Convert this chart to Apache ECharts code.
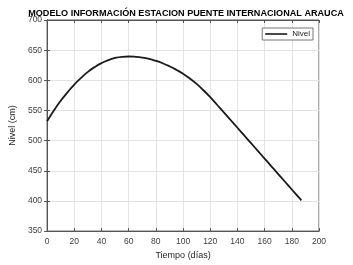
<!DOCTYPE html>
<html>
<head>
<meta charset="utf-8">
<script src="https://cdn.jsdelivr.net/npm/echarts@6/dist/echarts.min.js"></script>
<style>
  html, body { margin: 0; padding: 0; background: #fff; }
  #chart { width: 353px; height: 265px; }
</style>
</head>
<body>
<div id="chart"></div>
<script>
// datos
const dias = [0, 5, 10, 15, 20, 25, 30, 35, 40, 45, 50, 55, 60, 65, 70, 75, 80, 85, 90, 95,
  100, 105, 110, 115, 120, 125, 130, 135, 140, 145, 150, 155, 160, 165, 170, 175, 180, 185, 187]
const nivel = [532, 550, 566, 580, 593, 604, 614, 622, 628.5, 633.5, 637, 639, 639.5, 639, 637.7, 635.5, 632.3, 628.3, 623.4, 617.6,
  611, 603, 594, 583.5, 572, 559.5, 547, 534.2, 521.4, 508.6, 495.8, 483, 470.2, 457.4, 444.6, 431.8, 419, 406.2, 401]

const fontFam = 'Liberation Sans, Arial, sans-serif'
const axisColor = '#555'
const gridColor = '#e3e3e3'

const chart = echarts.init(document.getElementById('chart'))

const seriesData = dias.map((d, i) => [d, nivel[i]])

const option = {
  animation: false,
  title: {
    text: 'MODELO INFORMACIÓN ESTACION PUENTE INTERNACIONAL ARAUCA',
    left: 181,
    textAlign: 'center',
    top: 4,
    textStyle: {
      fontFamily: fontFam,
      fontSize: 9.1,
      fontWeight: 'bold',
      color: '#000'
    }
  },
  grid: {
    left: 46,
    right: 34,
    top: 20,
    bottom: 29,
    show: true,
    borderColor: axisColor,
    borderWidth: 1
  },
  legend: {
    data: ['Nivel'],
    right: 40,
    top: 28,
    icon: 'rect',
    itemWidth: 22,
    itemHeight: 1.6,
    itemGap: 2,
    padding: [2, 3, 2, 3],
    backgroundColor: '#fff',
    borderColor: '#777',
    borderWidth: 1,
    borderRadius: 0,
    textStyle: { fontFamily: fontFam, fontSize: 8, color: '#222' }
  },
  xAxis: [
    {
      type: 'value',
      min: 0,
      max: 200,
      interval: 20,
      name: 'Tiempo (días)',
      nameLocation: 'middle',
      nameGap: 19,
      nameTextStyle: { fontFamily: fontFam, fontSize: 9, color: '#262626' },
      axisLine: { show: true, lineStyle: { color: axisColor } },
      axisTick: { show: true, inside: true, length: 3, lineStyle: { color: axisColor } },
      axisLabel: { fontFamily: fontFam, fontSize: 8.5, color: '#404040', margin: 6 },
      splitLine: { show: true, lineStyle: { color: gridColor } }
    },
    {
      type: 'value',
      position: 'top',
      min: 0,
      max: 200,
      interval: 20,
      axisLine: { show: true, lineStyle: { color: axisColor } },
      axisTick: { show: true, inside: true, length: 3, lineStyle: { color: axisColor } },
      axisLabel: { show: false },
      splitLine: { show: false }
    }
  ],
  yAxis: [
    {
      type: 'value',
      min: 350,
      max: 700,
      interval: 50,
      name: 'Nivel (cm)',
      nameLocation: 'middle',
      nameGap: 29,
      nameTextStyle: { fontFamily: fontFam, fontSize: 9, color: '#262626' },
      axisLine: { show: true, lineStyle: { color: axisColor } },
      axisTick: { show: true, inside: true, length: 3, lineStyle: { color: axisColor } },
      axisLabel: { fontFamily: fontFam, fontSize: 8.5, color: '#404040', margin: 5 },
      splitLine: { show: true, lineStyle: { color: gridColor } }
    },
    {
      type: 'value',
      position: 'right',
      min: 350,
      max: 700,
      interval: 50,
      axisLine: { show: true, lineStyle: { color: axisColor } },
      axisTick: { show: true, inside: true, length: 3, lineStyle: { color: axisColor } },
      axisLabel: { show: false },
      splitLine: { show: false }
    }
  ],
  series: [
    {
      name: 'Nivel',
      type: 'line',
      data: seriesData,
      smooth: true,
      showSymbol: false,
      lineStyle: { color: '#1a1a1a', width: 1.8 },
      itemStyle: { color: '#1a1a1a' }
    }
  ]
}

chart.setOption(option)
</script>
</body>
</html>
